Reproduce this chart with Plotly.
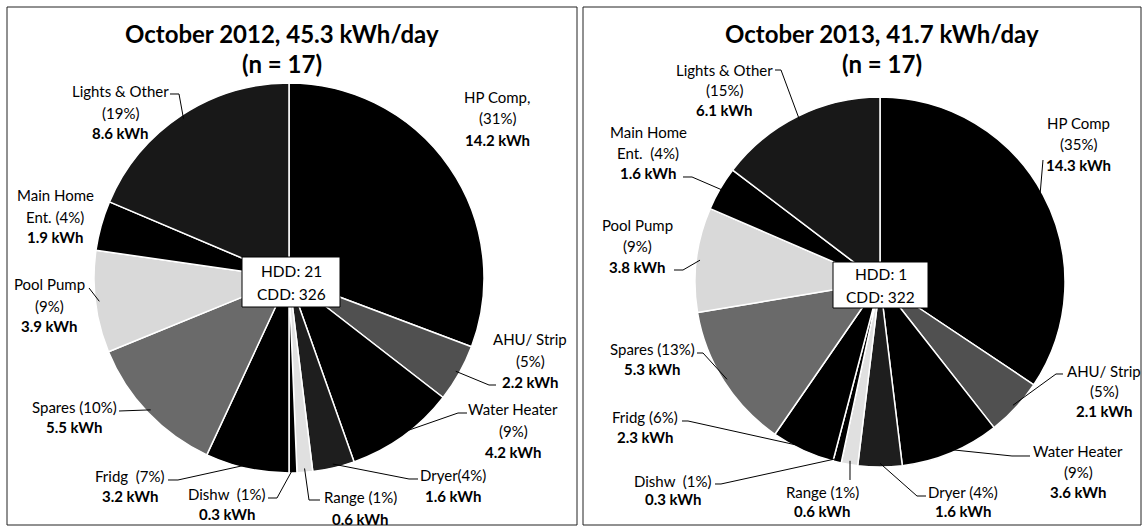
import numpy as np
import plotly.graph_objects as go

W, H = 1146, 529
OFF = 0  # body margin removed by post_script below

# ---------------- data ----------------
categories = ["HP Comp", "AHU/ Strip", "Water Heater", "Dryer", "Range", "Dishw",
              "Fridg", "Spares", "Pool Pump", "Main Home Ent.", "Lights & Other"]
kwh_2012 = [14.2, 2.2, 4.2, 1.6, 0.6, 0.3, 3.2, 5.5, 3.9, 1.9, 8.6]
pct_2012 = [31, 5, 9, 4, 1, 1, 7, 10, 9, 4, 19]
kwh_2013 = [14.3, 2.1, 3.6, 1.6, 0.6, 0.3, 2.3, 5.3, 3.8, 1.6, 6.1]
pct_2013 = [35, 5, 9, 4, 1, 1, 6, 13, 9, 4, 15]
title_2012 = ["October 2012, 45.3 kWh/day", "(n = 17)"]
title_2013 = ["October 2013, 41.7 kWh/day", "(n = 17)"]
degree_days_2012 = ["HDD: 21", "CDD: 326"]
degree_days_2013 = ["HDD: 1", "CDD: 322"]

NB = "\u00a0"
name_lines_2012 = [["HP Comp,", "({p}%)"], ["AHU/ Strip", "({p}%)"], ["Water Heater", "({p}%)"],
                   ["Dryer({p}%)"], ["Range ({p}%)"], ["Dishw " + NB + "({p}%)"], ["Fridg " + NB + "({p}%)"],
                   ["Spares ({p}%)"], ["Pool Pump", "({p}%)"], ["Main Home", "Ent. ({p}%)"],
                   ["Lights & Other", "({p}%)"]]
name_lines_2013 = [["HP Comp", "({p}%)"], ["AHU/ Strip", "({p}%)"], ["Water Heater", "({p}%)"],
                   ["Dryer ({p}%)"], ["Range ({p}%)"], ["Dishw " + NB + "({p}%)"], ["Fridg ({p}%)"],
                   ["Spares ({p}%)"], ["Pool Pump", "({p}%)"], ["Main Home", "Ent. " + NB + "({p}%)"],
                   ["Lights & Other", "({p}%)"]]

# ---------------- style / layout ----------------
slice_colors = ["#000000", "#505050", "#000000", "#1e1e1e", "#e0e0e0", "#000000",
                "#000000", "#6a6a6a", "#d9d9d9", "#000000", "#181818"]
FONT = "Lato"

# pie geometry in page pixels: center x, center y, radius
geo_2012 = dict(cx=289, cy=278, r=195)
geo_2013 = dict(cx=880, cy=282, r=185)

# label placements: (center x, [line y...], leader points before the tip or None)
lab_2012 = [
    (497, [97, 118, 140], None),
    (530, [339, 361, 382], [(496, 385), (489, 385)]),
    (513, [409, 431, 452], [(467, 413), (458, 413)]),
    (453, [475, 496], [(418, 479), (409, 479)]),
    (360, [497, 519], [(320, 500), (309, 500)]),
    (227, [494, 514], [(268, 498), (277, 498)]),
    (130, [476, 496], [(168, 480), (178, 480)]),
    (74, [407, 427], [(119, 411)]),
    (49, [284, 306, 326], [(89, 288)]),
    (55, [195, 217, 237], None),
    (120, [91, 113, 133], [(170, 94), (179, 94)]),
]
lab_2013 = [
    (1078, [123, 144, 165], [(1043, 160)]),
    (1104, [371, 391, 411], [(1063, 374), (1056, 374)]),
    (1078, [451, 472, 492], [(1030, 456), (1012, 456)]),
    (963, [492, 511], [(926, 496), (917, 496)]),
    (822, [492, 511], [(850, 480)]),
    (673, [481, 499], [(715, 484), (721, 484)]),
    (645, [417, 437], [(682, 421), (688, 421)]),
    (652, [349, 369], [(697, 353), (703, 353)]),
    (637, [225, 246, 267], [(674, 270), (683, 270)]),
    (648, [132, 153, 173], [(683, 177), (692, 177)]),
    (724, [70, 90, 110], [(775, 70), (781, 70)]),
]
title_pos_2012 = (282, [33, 63])
title_pos_2013 = (882, [33, 63])
box_2012 = (242, 257, 340, 307)
box_2013 = (833, 262, 928, 308)
panels = [(7, 7, 577, 525), (583, 7, 1141, 525)]


def px(x):
    return (x - OFF) / W


def py(y):
    return 1 - (y - OFF) / H


fig = go.Figure()
annotations = []
shapes = []

for (kwh, pct, names, geo, labs, tpos, ttxt, box, dd) in [
    (kwh_2012, pct_2012, name_lines_2012, geo_2012, lab_2012, title_pos_2012, title_2012, box_2012, degree_days_2012),
    (kwh_2013, pct_2013, name_lines_2013, geo_2013, lab_2013, title_pos_2013, title_2013, box_2013, degree_days_2013),
]:
    cx, cy, r = geo["cx"], geo["cy"], geo["r"]
    fig.add_trace(go.Pie(
        labels=categories, values=kwh, sort=False, direction="clockwise", rotation=0,
        marker=dict(colors=slice_colors, line=dict(color="white", width=1.5)),
        textinfo="none", hoverinfo="label+value+percent", showlegend=False,
        domain=dict(x=[px(cx - r), px(cx + r)], y=[py(cy + r), py(cy - r)]),
    ))
    vals = np.array(kwh, dtype=float)
    cum = np.cumsum(vals) - vals / 2
    mids = np.deg2rad(cum / vals.sum() * 360.0)
    for i, (lx, ys, leader) in enumerate(labs):
        lines = [t.format(p=pct[i]) for t in names[i]] + ["<b>%s kWh</b>" % kwh[i]]
        for txt, yy in zip(lines, ys):
            annotations.append(dict(x=px(lx), y=py(yy), xref="paper", yref="paper", text=txt,
                                    showarrow=False, xanchor="center", yanchor="middle",
                                    font=dict(family=FONT, size=15, color="black")))
        if leader:
            tip = (cx + 0.98 * r * np.sin(mids[i]), cy - 0.98 * r * np.cos(mids[i]))
            pts = list(leader) + [tip]
            path = "M " + " L ".join("%.5f,%.5f" % (px(a), py(b)) for a, b in pts)
            shapes.append(dict(type="path", xref="paper", yref="paper", path=path,
                               line=dict(color="black", width=1)))
    for txt, yy in zip(ttxt, tpos[1]):
        annotations.append(dict(x=px(tpos[0]), y=py(yy), xref="paper", yref="paper",
                                text="<b>%s</b>" % txt, showarrow=False, xanchor="center",
                                yanchor="middle", font=dict(family=FONT, size=24, color="black")))
    x0, y0, x1, y1 = box
    shapes.append(dict(type="rect", xref="paper", yref="paper", x0=px(x0), x1=px(x1),
                       y0=py(y1), y1=py(y0), fillcolor="white", line=dict(color="black", width=1)))
    bcx = (x0 + x1) / 2
    bcy = (y0 + y1) / 2
    for k, txt in enumerate(dd):
        annotations.append(dict(x=px(bcx), y=py(bcy - 11.5 + 23 * k), xref="paper", yref="paper",
                                text=txt, showarrow=False, xanchor="center", yanchor="middle",
                                font=dict(family=FONT, size=15.5, color="black")))

for (x0, y0, x1, y1) in panels:
    shapes.append(dict(type="rect", xref="paper", yref="paper", x0=px(x0), x1=px(x1),
                       y0=py(y1), y1=py(y0), line=dict(color="#222222", width=1), layer="below"))

fig.update_layout(width=W, height=H, margin=dict(l=0, r=0, t=0, b=0),
                  paper_bgcolor="white", plot_bgcolor="white",
                  annotations=annotations, shapes=shapes,
                  font=dict(family=FONT, color="black"))

fig.write_html("out.html", config={"displayModeBar": False},
               post_script="document.body.style.margin='0';document.body.style.overflow='hidden';")
